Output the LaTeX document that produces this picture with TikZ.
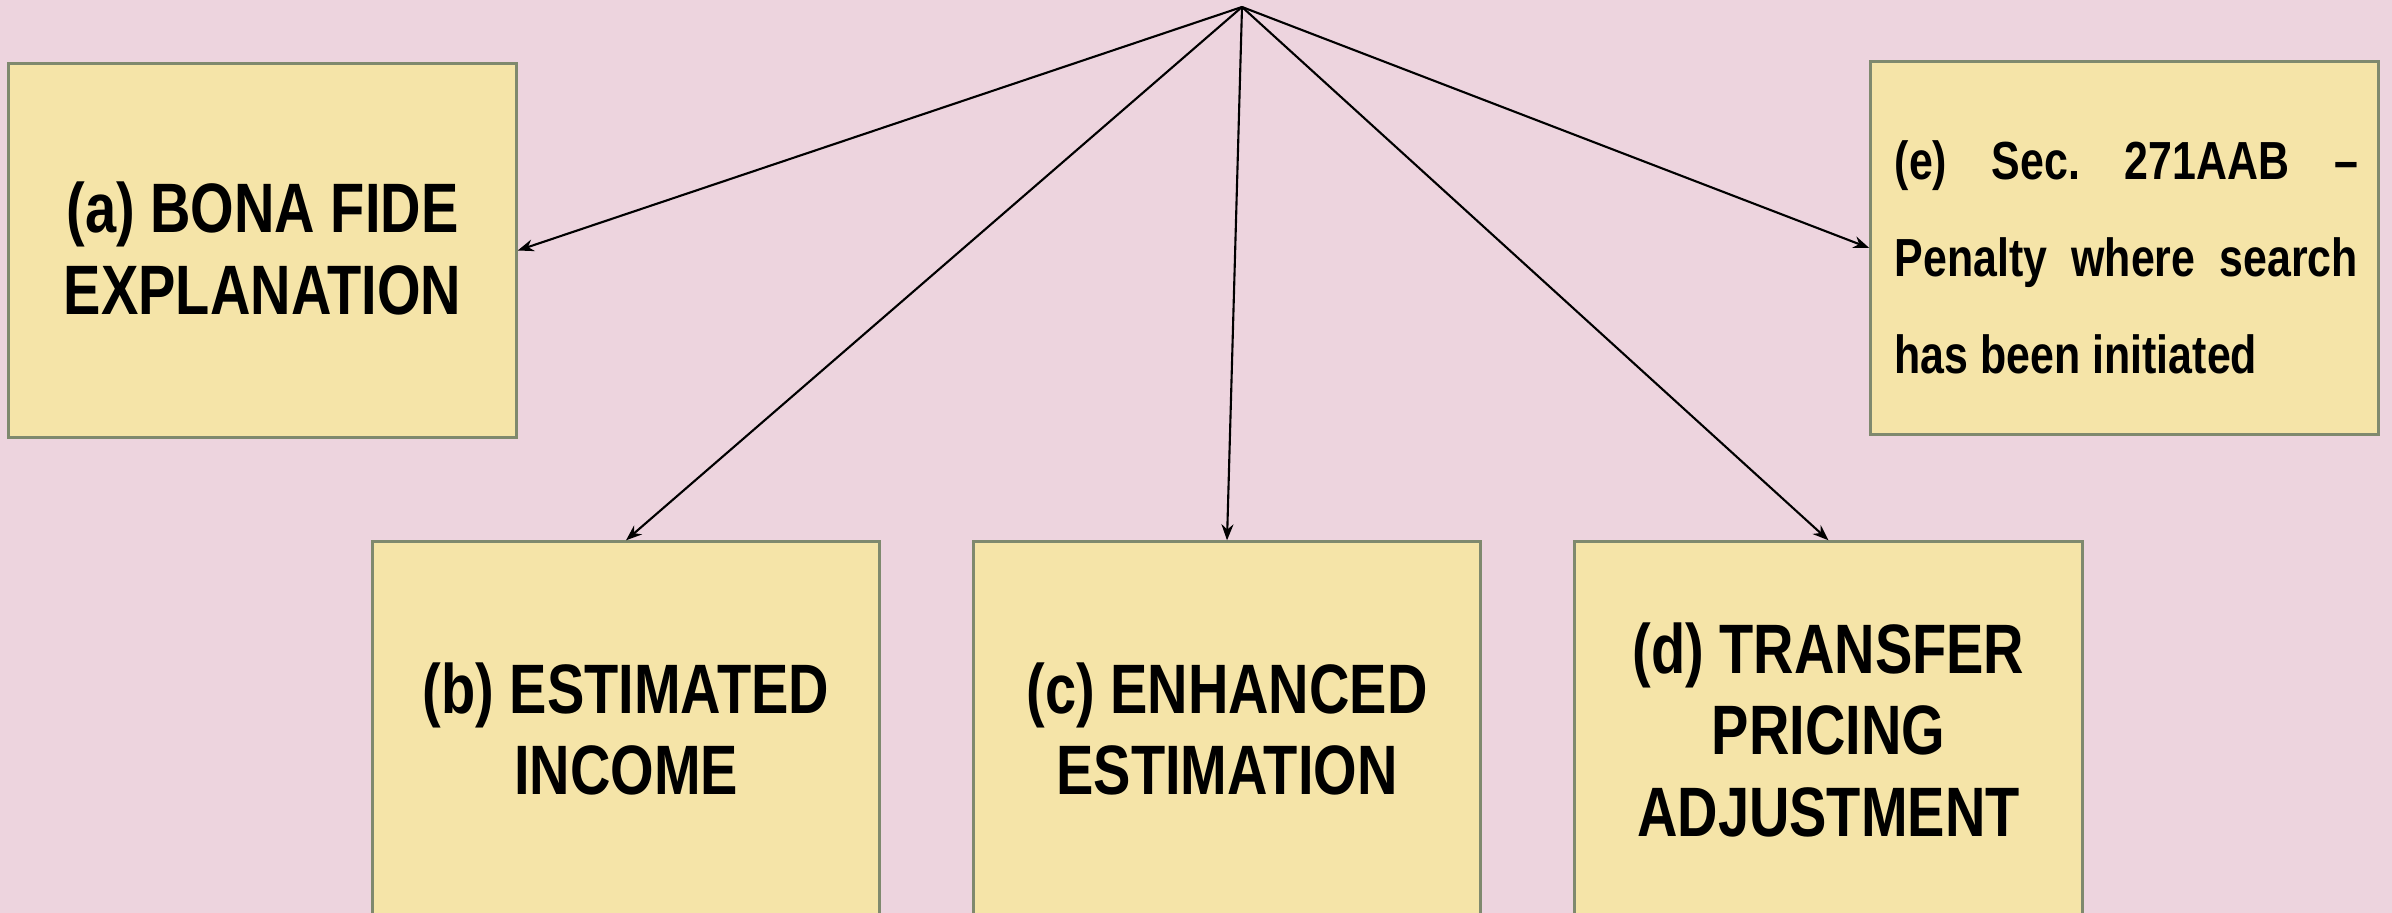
\documentclass[tikz,border=0pt]{standalone}
\usepackage{fontspec}
\setmainfont{Liberation Sans}
\newfontfamily\narrowfont{Liberation Sans}[FakeStretch=0.8]
\usetikzlibrary{arrows.meta}
\definecolor{bgpink}{RGB}{237,212,222}
\definecolor{boxfill}{RGB}{245,228,168}
\definecolor{boxline}{RGB}{127,137,110}
\newcommand{\bigtxt}{\bfseries\narrowfont\fontsize{19.9pt}{23.3pt}\selectfont}
\begin{document}
\begin{tikzpicture}[x=0.01cm,y=-0.01cm,
  box/.style={draw=boxline, line width=0.9pt, fill=boxfill, minimum width=5.07cm, minimum height=3.73cm, inner sep=0pt},
  label/.style={anchor=base, inner sep=0pt},
  conn/.style={line width=0.6pt, -{Stealth[length=0.16cm,width=0.12cm]}}]
\useasboundingbox (0,0) rectangle (2392,913);
\fill[bgpink] (0,0) rectangle (2392,913);
\clip (0,0) rectangle (2392,913);
\coordinate (top) at (1242,7);
\node[box] (a) at (262.5,250.5) {};
\node[box] (e) at (2124.5,248) {};
\node[box] (b) at (626,728.5) {};
\node[box] (c) at (1227,728.5) {};
\node[box] (d) at (1828.5,728.5) {};
\node[label] (atext) at (262.5,233) {\parbox[t]{5cm}{\centering\bigtxt (a) BONA FIDE\\EXPLANATION}};
\node[label] (btext) at (626,713) {\parbox[t]{5cm}{\centering\bigtxt (b) ESTIMATED\\INCOME}};
\node[label] (ctext) at (1227,713) {\parbox[t]{5cm}{\centering\bigtxt (c) ENHANCED\\ESTIMATION}};
\node[label] (dtext) at (1828.5,673) {\parbox[t]{5cm}{\centering\bigtxt (d) TRANSFER\\PRICING\\ADJUSTMENT}};
\node[anchor=base west, inner sep=0pt] (etext) at (1894,180) {\parbox[t]{4.63cm}{\bfseries\narrowfont\fontsize{15.25pt}{27.5pt}\selectfont\noindent
\hbox to 4.63cm{(e)\hfill Sec.\hfill 271AAB\hfill –}\par
\noindent\hbox to 4.63cm{Penalty\hfill where\hfill search}\par
\noindent has been initiated}};
\draw[conn] (top) -- (a.east);
\draw[conn] (top) -- (b.north);
\draw[conn] (top) -- (c.north);
\draw[conn] (top) -- (d.north);
\draw[conn] (top) -- (e.west);
\end{tikzpicture}
\end{document}
